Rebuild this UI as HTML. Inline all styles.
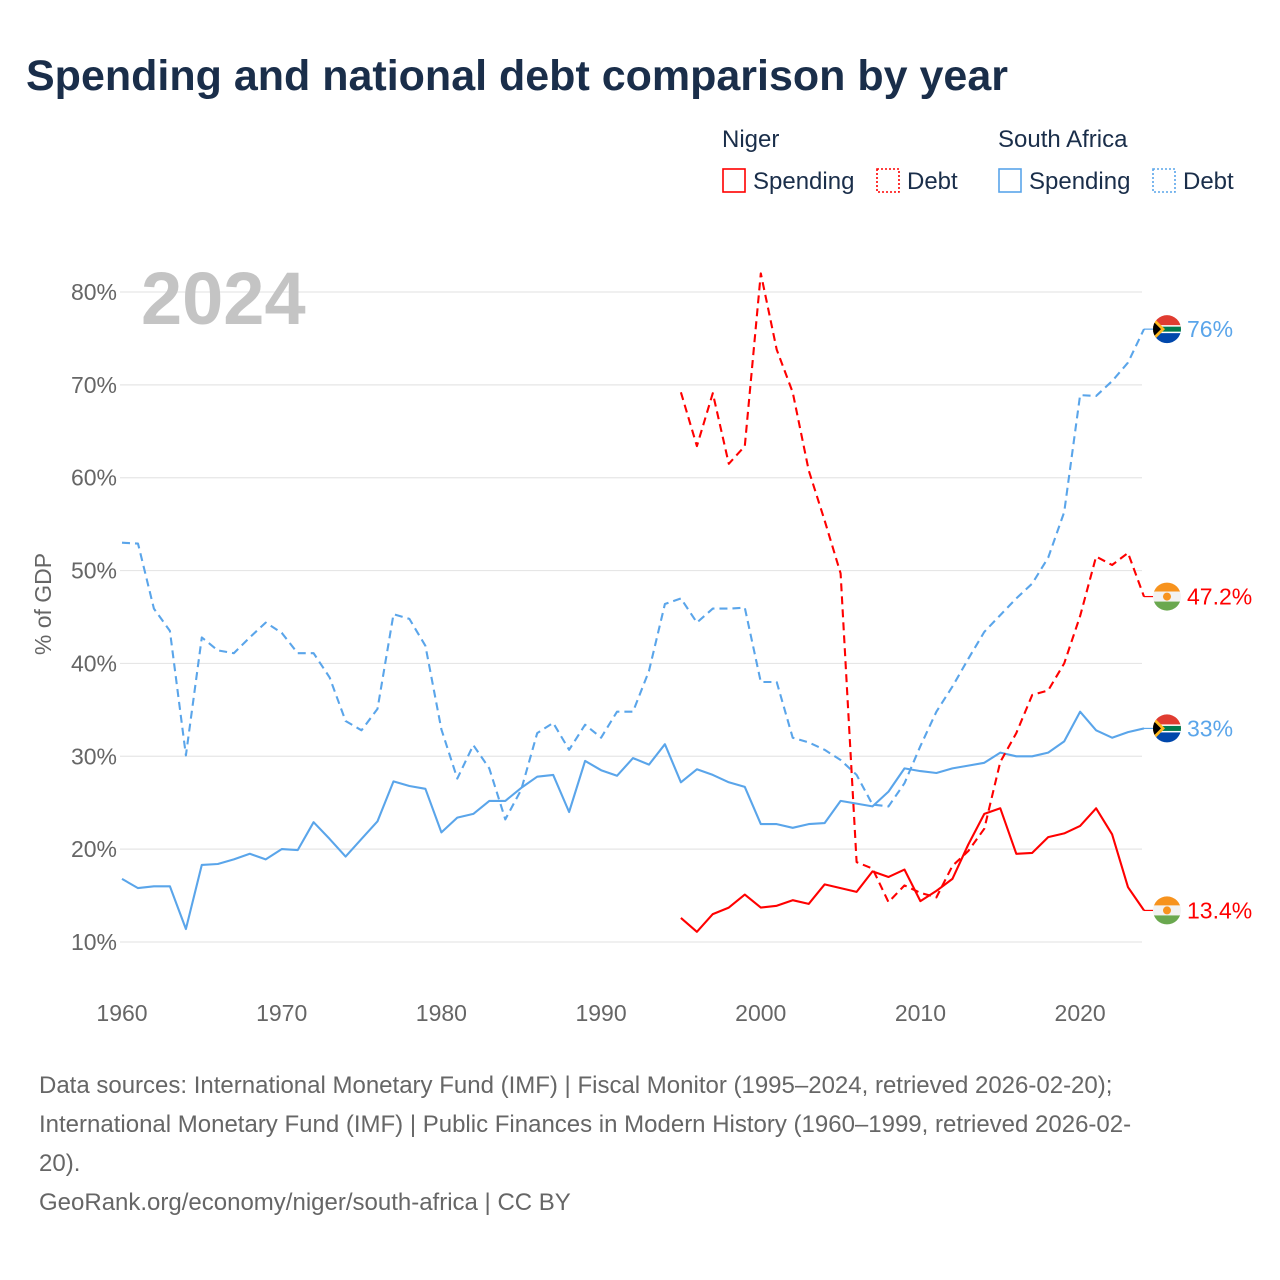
<!DOCTYPE html>
<html><head><meta charset="utf-8">
<style>
body{margin:0;background:#fff;font-family:"Liberation Sans",sans-serif;}
#wrap{position:relative;width:1280px;height:1280px;overflow:hidden}
h1{position:absolute;left:26px;top:52px;margin:0;font-size:43px;font-weight:bold;color:#1a2e4a;letter-spacing:0px}
.src{position:absolute;left:39px;top:1066px;width:1220px;font-size:24px;line-height:39px;color:#666;white-space:nowrap}
</style></head><body>
<div id="wrap">
<h1>Spending and national debt comparison by year</h1>
<svg id="chart" width="1280" height="1280" style="position:absolute;left:0;top:0"></svg>
<div class="src">Data sources: International Monetary Fund (IMF) | Fiscal Monitor (1995–2024, retrieved 2026-02-20);<br>International Monetary Fund (IMF) | Public Finances in Modern History (1960–1999, retrieved 2026-02-<br>20).<br>GeoRank.org/economy/niger/south-africa | CC BY</div>
</div>
<script>
const yTicks=[10,20,30,40,50,60,70,80];
const xTicks=[1960,1970,1980,1990,2000,2010,2020];
const saYearStart=1960;
const saSpending=[16.8,15.8,16.0,16.0,11.4,18.3,18.4,18.9,19.5,18.9,20.0,19.9,22.9,21.1,19.2,21.1,23.0,27.3,26.8,26.5,21.8,23.4,23.8,25.2,25.2,26.6,27.8,28.0,24.0,29.5,28.5,27.9,29.8,29.1,31.3,27.2,28.6,28.0,27.2,26.7,22.7,22.7,22.3,22.7,22.8,25.2,24.9,24.6,26.2,28.7,28.4,28.2,28.7,29.0,29.3,30.4,30.0,30.0,30.4,31.6,34.8,32.8,32.0,32.6,33.0];
const saDebt=[53.0,52.9,45.9,43.5,30.1,42.8,41.4,41.1,42.8,44.4,43.3,41.1,41.1,38.5,33.8,32.8,35.1,45.3,44.8,41.9,32.9,27.6,31.2,28.7,23.2,26.4,32.5,33.6,30.7,33.4,32.0,34.8,34.8,39.2,46.4,47.0,44.4,45.9,45.9,46.0,38.0,38.0,32.0,31.5,30.7,29.6,28.0,24.8,24.6,27.1,31.1,34.8,37.5,40.5,43.4,45.2,47.0,48.6,51.4,56.3,68.9,68.8,70.4,72.4,76.0];
const neYearStart=1995;
const neSpending=[12.6,11.1,13.0,13.7,15.1,13.7,13.9,14.5,14.1,16.2,15.8,15.4,17.6,17.0,17.8,14.4,15.5,16.8,20.5,23.8,24.4,19.5,19.6,21.3,21.7,22.5,24.4,21.6,15.9,13.4];
const neDebt=[69.2,63.4,69.1,61.5,63.4,82.0,73.8,69.2,60.8,55.4,49.7,18.6,17.9,14.3,16.1,15.3,14.8,18.2,19.8,22.2,29.4,32.5,36.6,37.1,40.0,45.1,51.5,50.6,51.9,47.2];
const endLabels=["76%","47.2%","33%","13.4%"];

const svg=document.getElementById('chart');
const NS='http://www.w3.org/2000/svg';
const X=y=>122+(y-1960)*(1144-122)/64;
const Y=v=>942-(v-10)*650/70;
function mk(t,a,p){const e=document.createElementNS(NS,t);for(const k in a)e.setAttribute(k,a[k]);(p||svg).appendChild(e);return e;}
yTicks.forEach(v=>{
 const g=mk('line',{x1:120,x2:1142,y1:Y(v),y2:Y(v),stroke:'#e6e6e6','stroke-width':1.2});
 
 
 const t=mk('text',{x:117,y:Y(v)+8,'text-anchor':'end','font-size':23,fill:'#666','font-family':'Liberation Sans'});
 t.textContent=v+'%';
 
 
});
xTicks.forEach(v=>{
 const t=mk('text',{x:X(v),y:1021,'text-anchor':'middle','font-size':23,fill:'#666','font-family':'Liberation Sans'});
 t.textContent=v;
 
 
});
const yt=mk('text',{transform:'translate(51,604) rotate(-90)','text-anchor':'middle','font-size':23,fill:'#666','font-family':'Liberation Sans'});
yt.textContent='% of GDP';


const yr=mk('text',{x:141,y:324,'font-size':74,'font-weight':'bold',fill:'#c4c4c4','font-family':'Liberation Sans'});
yr.textContent='2024';



function series(vals,start,color,dash,name){
 const d=vals.map((v,i)=>(i?'L':'M')+X(start+i).toFixed(1)+' '+Y(v).toFixed(1)).join(' ');
 const p=mk('path',{d:d,fill:'none',stroke:color,'stroke-width':2.1,'stroke-dasharray':dash||'none','stroke-linejoin':'round'});
 
 
 const last=vals[vals.length-1];
 mk('line',{x1:X(start+vals.length-1),x2:1160,y1:Y(last),y2:Y(last),stroke:color,'stroke-width':1.2});
}
const RED='#ff0000',BLUE='#5aa5ea';
series(saDebt,saYearStart,BLUE,'8 5','south-africa-debt-line');
series(saSpending,saYearStart,BLUE,null,'south-africa-spending-line');
series(neDebt,neYearStart,RED,'8 5','niger-debt-line');
series(neSpending,neYearStart,RED,null,'niger-spending-line');

function flagSA(cy){
 const g=mk('g',{});
 
 
 const id='c'+Math.round(cy);
 const cp=mk('clipPath',{id:id},g);mk('circle',{cx:1167,cy:cy,r:14},cp);
 const i=mk('g',{'clip-path':'url(#'+id+')'},g);
 mk('rect',{x:1150,y:cy-15,width:35,height:15,fill:'#e03c31'},i);
 mk('rect',{x:1150,y:cy,width:35,height:15,fill:'#0047ab'},i);
 mk('rect',{x:1150,y:cy-4,width:35,height:8,fill:'#fff'},i);
 mk('rect',{x:1150,y:cy-2.5,width:35,height:5,fill:'#007a4d'},i);
 mk('polygon',{points:`1150,${cy-15} 1165,${cy} 1150,${cy+15}`,fill:'#ffb81c'},i);
 mk('polygon',{points:`1150,${cy-11} 1161,${cy} 1150,${cy+11}`,fill:'#000'},i);
}
function flagNE(cy){
 const g=mk('g',{});
 
 
 const id='n'+Math.round(cy);
 const cp=mk('clipPath',{id:id},g);mk('circle',{cx:1167,cy:cy,r:14},cp);
 const i=mk('g',{'clip-path':'url(#'+id+')'},g);
 mk('rect',{x:1150,y:cy-15,width:35,height:10,fill:'#f7931e'},i);
 mk('rect',{x:1150,y:cy-5,width:35,height:10,fill:'#f2f2f2'},i);
 mk('rect',{x:1150,y:cy+5,width:35,height:10,fill:'#6aa84f'},i);
 mk('circle',{cx:1167,cy:cy,r:4,fill:'#f7931e'},i);
}
const endVals=[saDebt[saDebt.length-1],neDebt[neDebt.length-1],saSpending[saSpending.length-1],neSpending[neSpending.length-1]];
const endColors=[BLUE,RED,BLUE,RED];
endVals.forEach((v,k)=>{
 const cy=Y(v);
 if(endColors[k]===BLUE)flagSA(cy);else flagNE(cy);
 const t=mk('text',{x:1187,y:cy+8,'font-size':23,fill:endColors[k],'font-family':'Liberation Sans'});
 t.textContent=endLabels[k];
 
 
});

function txt(x,y,s,name){const t=mk('text',{x:x,y:y,'font-size':24,fill:'#1a2e4a','font-family':'Liberation Sans'});t.textContent=s;
 
 return t;}
txt(722,147,'Niger','legend-niger-title');
txt(998,147,'South Africa','legend-south-africa-title');
function legItem(x,color,dash,label,name){
 const g=mk('g',{});
 
 
 mk('rect',{x:x+1,y:169,width:22,height:23,fill:'none',stroke:color,'stroke-width':1.6,'stroke-dasharray':dash||'none'},g);
 const t=mk('text',{x:x+31,y:189,'font-size':24,fill:'#1a2e4a','font-family':'Liberation Sans'},g);t.textContent=label;
}
legItem(722,RED,null,'Spending','legend-niger-spending');
legItem(876,RED,'2 2','Debt','legend-niger-debt');
legItem(998,BLUE,null,'Spending','legend-south-africa-spending');
legItem(1152,BLUE,'2 2','Debt','legend-south-africa-debt');
</script>
</body></html>
